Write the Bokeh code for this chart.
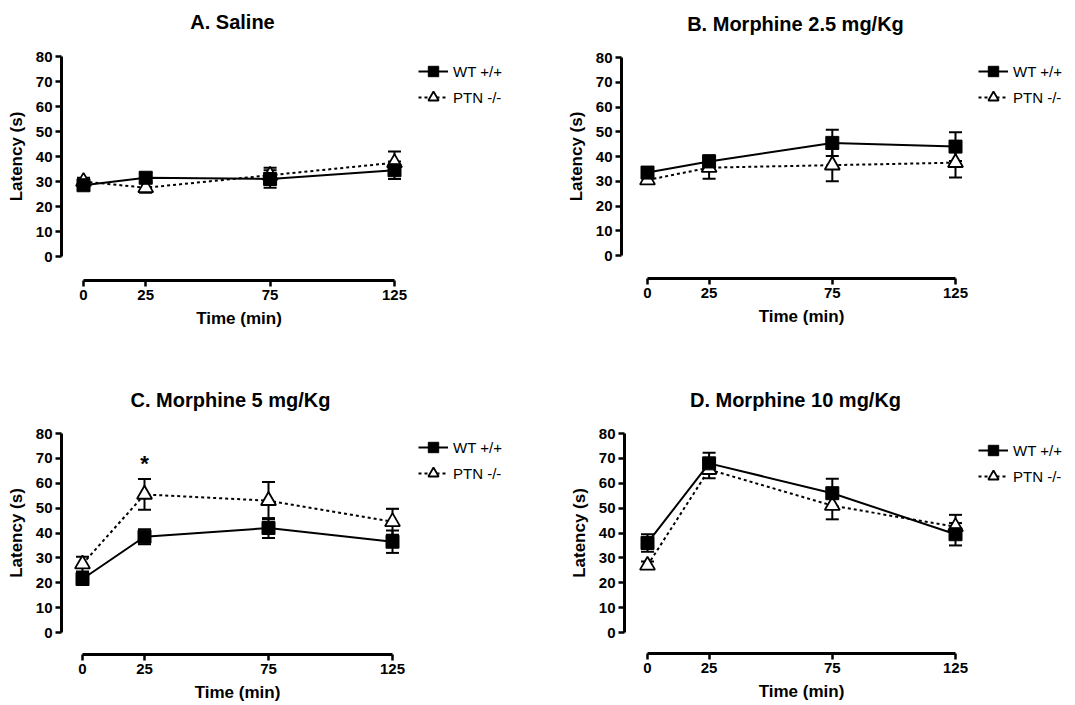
from bokeh.plotting import figure
from bokeh.models import (Range1d, LinearAxis, FixedTicker, Whisker, TeeHead,
                          ColumnDataSource, Label, Legend, LegendItem)
from bokeh.layouts import column, row
from bokeh.core.properties import value
from bokeh.embed import file_html
from bokeh.resources import INLINE

# ---------------- data ----------------
times = [0, 25, 75, 125]
x_ticks = [0, 25, 75, 125]
y_ticks = [0, 10, 20, 30, 40, 50, 60, 70, 80]
series_labels = ["WT +/+", "PTN -/-"]
titles = ["A. Saline", "B. Morphine 2.5 mg/Kg", "C. Morphine 5 mg/Kg", "D. Morphine 10 mg/Kg"]

wt_saline = [28.5, 31.5, 31.0, 34.5]
wt_saline_sem = [1.5, 1.8, 3.5, 3.5]
ptn_saline = [30.0, 27.5, 32.5, 37.5]
ptn_saline_sem = [1.5, 2.0, 3.0, 4.5]

wt_m25 = [33.5, 38.0, 45.5, 44.0]
wt_m25_sem = [1.5, 2.5, 5.3, 5.8]
ptn_m25 = [30.5, 35.5, 36.5, 37.5]
ptn_m25_sem = [1.5, 4.5, 6.5, 6.0]

wt_m5 = [21.5, 38.5, 42.0, 36.5]
wt_m5_sem = [2.0, 3.0, 4.0, 4.5]
ptn_m5 = [27.5, 55.5, 53.0, 44.5]
ptn_m5_sem = [3.0, 6.2, 7.5, 5.2]

wt_m10 = [36.0, 68.0, 56.0, 39.5]
wt_m10_sem = [3.5, 4.3, 5.8, 4.5]
ptn_m10 = [27.0, 65.5, 51.0, 42.5]
ptn_m10_sem = [1.5, 3.5, 5.5, 4.8]

# significance marker (panel C)
sig_times = [25]
sig_y = [68]

FONT = "Liberation Sans"

# geometry: figure origin/size on page, pixel positions of axis anchors
panels = [
    dict(ox=0, oy=0, w=553, h=363, yax=61, x0=83, x125=394, y0=256, y80=56, xax=280,
         tx=232, ty=21, lx=418, ly=71),
    dict(ox=553, oy=0, w=522, h=363, yax=621, x0=647, x125=955, y0=255, y80=57, xax=278,
         tx=795, ty=23, lx=978, ly=71),
    dict(ox=0, oy=363, w=553, h=342, yax=61, x0=82, x125=392, y0=632, y80=433, xax=654,
         tx=230, ty=399, lx=418, ly=447),
    dict(ox=553, oy=363, w=522, h=342, yax=624, x0=647, x125=955, y0=632, y80=433, xax=653,
         tx=795, ty=399, lx=978, ly=450),
]

datasets = [
    (wt_saline, wt_saline_sem, ptn_saline, ptn_saline_sem),
    (wt_m25, wt_m25_sem, ptn_m25, ptn_m25_sem),
    (wt_m5, wt_m5_sem, ptn_m5, ptn_m5_sem),
    (wt_m10, wt_m10_sem, ptn_m10, ptn_m10_sem),
]


def style_axis(ax):
    ax.axis_line_width = 3
    ax.axis_line_color = "black"
    ax.major_tick_line_width = 2.5
    ax.major_tick_line_color = "black"
    ax.major_tick_out = 6
    ax.major_tick_in = 0
    ax.minor_tick_line_color = None
    ax.major_label_text_font = FONT
    ax.major_label_text_font_style = "bold"
    ax.major_label_text_font_size = "15px"
    ax.major_label_text_color = "black"
    ax.axis_label_text_font = FONT
    ax.axis_label_text_font_style = "bold"
    ax.axis_label_text_font_size = "17px"
    ax.axis_label_text_color = "black"


def make_panel(g, title, data, show_sig):
    wt, wt_sem, ptn, ptn_sem = data
    xs = (g["x125"] - g["x0"]) / 125.0
    ys = (g["y0"] - g["y80"]) / 80.0
    x_start = (g["ox"] - g["x0"]) / xs
    x_end = (g["ox"] + g["w"] - g["x0"]) / xs
    y_end = (g["y0"] - g["oy"]) / ys
    y_start = (g["y0"] - (g["oy"] + g["h"])) / ys

    p = figure(width=g["w"], height=g["h"], x_range=Range1d(x_start, x_end),
               y_range=Range1d(y_start, y_end), output_backend="svg",
               toolbar_location=None, min_border=0,
               x_axis_location=None, y_axis_location=None)
    p.outline_line_color = None
    p.grid.visible = False
    p.background_fill_color = "white"

    xa = LinearAxis(fixed_location=(g["y0"] - g["xax"]) / ys, bounds=(0, 125),
                    ticker=FixedTicker(ticks=x_ticks), axis_label="Time (min)")
    style_axis(xa)
    xa.major_label_standoff = 3
    xa.axis_label_standoff = 6
    p.add_layout(xa, "below")

    ya = LinearAxis(fixed_location=(g["yax"] - g["x0"]) / xs, bounds=(0, 80),
                    ticker=FixedTicker(ticks=y_ticks), axis_label="Latency (s)")
    style_axis(ya)
    ya.major_label_standoff = 3
    ya.axis_label_standoff = 7
    p.add_layout(ya, "left")

    src_wt = ColumnDataSource(dict(t=times, m=wt,
                                   lo=[a - b for a, b in zip(wt, wt_sem)],
                                   hi=[a + b for a, b in zip(wt, wt_sem)]))
    src_ptn = ColumnDataSource(dict(t=times, m=ptn,
                                    lo=[a - b for a, b in zip(ptn, ptn_sem)],
                                    hi=[a + b for a, b in zip(ptn, ptn_sem)]))

    for src in (src_ptn, src_wt):
        wh = Whisker(source=src, base="t", upper="hi", lower="lo",
                     line_width=2, line_color="black",
                     upper_head=TeeHead(size=13, line_width=2, line_color="black"),
                     lower_head=TeeHead(size=13, line_width=2, line_color="black"))
        p.add_layout(wh)

    l_ptn = p.line("t", "m", source=src_ptn, line_color="black", line_width=2,
                   line_dash="3 3")
    s_ptn = p.scatter("t", "m", source=src_ptn, marker="triangle", size=15,
                      fill_color="white", line_color="black", line_width=1.8)
    l_wt = p.line("t", "m", source=src_wt, line_color="black", line_width=2)
    s_wt = p.scatter("t", "m", source=src_wt, marker="square", size=13,
                     fill_color="black", line_color="black", line_width=1)

    if show_sig:
        sig_src = ColumnDataSource(dict(x=sig_times, y=sig_y, t=["*"] * len(sig_times)))
        p.text("x", "y", text="t", source=sig_src, text_align="center",
               text_baseline="middle", text_font=value(FONT), text_font_style="bold",
               text_font_size="22px", text_color="black")

    row_h = 26
    leg_top = g["ly"] - row_h / 2
    leg = Legend(items=[LegendItem(label=series_labels[0], renderers=[l_wt, s_wt]),
                        LegendItem(label=series_labels[1], renderers=[l_ptn, s_ptn])],
                 location=(g["lx"] - g["ox"], (g["oy"] + g["h"]) - (leg_top + 2 * row_h)),
                 orientation="vertical")
    leg.border_line_color = None
    leg.background_fill_alpha = 0
    leg.padding = 0
    leg.margin = 0
    leg.spacing = 0
    leg.glyph_width = 30
    leg.glyph_height = row_h
    leg.label_height = row_h
    leg.label_standoff = 5
    leg.label_text_font = FONT
    leg.label_text_font_size = "15px"
    leg.label_text_color = "black"
    leg.label_text_baseline = "middle"
    p.add_layout(leg)

    p.add_layout(Label(x=g["tx"] - g["ox"], y=(g["oy"] + g["h"]) - g["ty"],
                       x_units="screen", y_units="screen", text=title,
                       text_align="center", text_baseline="middle",
                       text_font=FONT, text_font_style="bold",
                       text_font_size="20px", text_color="black"))
    return p


figs = [make_panel(panels[i], titles[i], datasets[i], i == 2) for i in range(4)]
layout = column(row(figs[0], figs[1]), row(figs[2], figs[3]))

open("out.html", "w").write(file_html(layout, INLINE))
